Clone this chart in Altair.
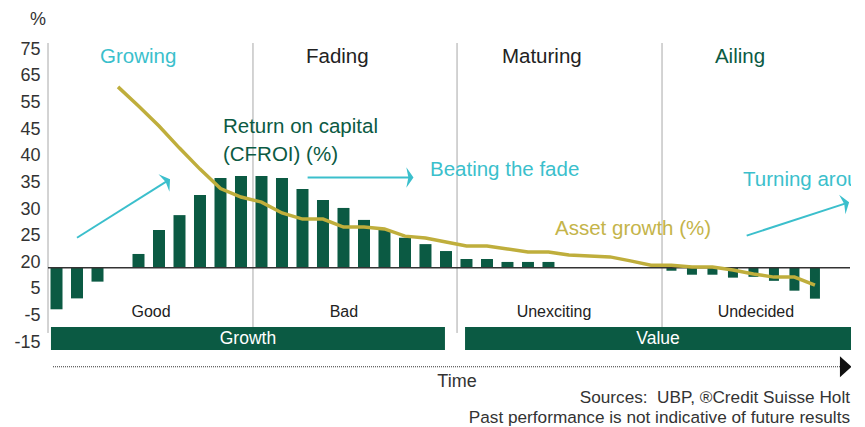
import math
import altair as alt
import pandas as pd

FONT = "Liberation Sans"
GREEN = "#0b5a43"
CYAN = "#3bbfcc"
OLIVE = "#bfae3c"
OLIVE_TXT = "#c4b44a"
DARK = "#222222"
GRAY = "#333333"
SEP = "#a8a8a8"

# ---- data (y values in axis-step units, 0 = "-15" tick) ----
y_tick_labels = ["-15", "-5", "5", "20", "25", "30", "35", "40", "45", "55", "65", "75"]
slots = list(range(38))
return_on_capital = [1.23, 1.64, 2.27, None, 3.31, 4.21, 4.77, 5.53, 6.17, 6.24, 6.24, 6.17,
                     5.75, 5.34, 5.04, 4.59, 4.21, 3.92, 3.68, 3.42, 3.12, 3.12, 3.01, 3.01,
                     3.01, None, None, None, None, None, 2.68, 2.53, 2.53, 2.42, 2.45, 2.30,
                     1.93, 1.63]
asset_growth = [None, None, None, 9.59, 8.87, 8.12, 7.29, 6.50, 5.77, 5.45, 5.26, 4.85,
                4.62, 4.62, 4.32, 4.32, 4.25, 3.98, 3.91, 3.76, 3.61, 3.61, 3.50, 3.38,
                3.38, 3.27, 3.23, 3.20, 3.05, 2.89, 2.89, 2.82, 2.82, 2.71, 2.56, 2.44,
                2.44, 2.14]
baseline = 2.79
phase_names = ["Growing", "Fading", "Maturing", "Ailing"]
phase_colors = [CYAN, DARK, DARK, GREEN]
phase_x = [2.12, 12.17, 21.73, 32.12]
outcome_names = ["Good", "Bad", "Unexciting", "Undecided"]
outcome_x = [4.61, 14.02, 24.27, 34.12]
separators = [9.585, 19.54, 29.54]
style_names = ["Growth", "Value"]
style_x0 = [-0.27, 19.93]
style_x1 = [18.95, 38.9]

X_MIN, X_MAX = -0.415, 38.71
Y_MIN, Y_MAX = -0.30, 11.24
W, H = 802, 307
PX_K = W / (X_MAX - X_MIN)
PX_V = H / (Y_MAX - Y_MIN)

xs = alt.Scale(domain=[X_MIN, X_MAX], nice=False, zero=False, padding=0)
ys = alt.Scale(domain=[Y_MIN, Y_MAX], nice=False, zero=False, padding=0)
label_expr = "[" + ",".join("'%s'" % t for t in y_tick_labels) + "][datum.value]"
Y_AXIS = alt.Axis(values=list(range(len(y_tick_labels))), labelExpr=label_expr, ticks=False,
                  domain=False, grid=False, title="", labelFont=FONT, labelFontSize=18,
                  labelColor=GRAY, labelPadding=8)


def X(f):
    return alt.X(f, type="quantitative", scale=xs, axis=None)


def Y(f):
    return alt.Y(f, type="quantitative", scale=ys, axis=Y_AXIS)


df = pd.DataFrame({"k": slots, "roc": return_on_capital, "ag": asset_growth})
df["base"] = baseline

# separators and left axis line
sep_df = pd.DataFrame({"k": [X_MIN] + separators, "top": Y_MAX, "bot": 0.34})
seps = alt.Chart(sep_df).mark_rule(color=SEP, strokeWidth=1).encode(
    x=X("k"), y=Y("top"), y2="bot")

bars_a = alt.Chart(df).transform_filter("datum.k <= 24").mark_bar(width=12, color=GREEN).encode(
    x=X("k"), y=Y("roc"), y2="base")
bars_b = alt.Chart(df).transform_filter("datum.k >= 30").mark_bar(width=10, color=GREEN).encode(
    x=X("k"), y=Y("roc"), y2="base")

base_df = pd.DataFrame({"k0": [X_MIN], "k1": [X_MAX], "v": [baseline]})
base_rule = alt.Chart(base_df).mark_rule(color=GRAY, strokeWidth=1.5).encode(
    x=X("k0"), x2="k1", y=Y("v"))

line = alt.Chart(df).mark_line(color=OLIVE, strokeWidth=3.5).encode(x=X("k"), y=Y("ag"))

band_df = pd.DataFrame({"name": style_names, "k0": style_x0, "k1": style_x1,
                        "v0": 0.564, "v1": -0.30})
band_df["kc"] = (band_df["k0"] + band_df["k1"].clip(upper=38.76)) / 2
band_df["vt"] = 0.11
bands = alt.Chart(band_df).mark_rect(color=GREEN).encode(
    x=X("k0"), x2="k1", y=Y("v0"), y2="v1")
band_text = alt.Chart(band_df).mark_text(font=FONT, fontSize=17.5, color="white",
                                         baseline="middle").encode(
    x=X("kc"), y=Y("vt"), text="name")

# left-aligned big labels
left_df = pd.DataFrame({
    "text": phase_names + ["Return on capital", "(CFROI) (%)", "Beating the fade",
                           "Turning around", "Asset growth (%)"],
    "k": phase_x + [8.12, 8.12, 18.22, 33.49, 24.32],
    "v": [10.71] * 4 + [8.08, 7.03, 6.47, 6.09, 4.25],
    "color": phase_colors + [GREEN, GREEN, CYAN, CYAN, OLIVE_TXT],
})
left_text = alt.Chart(left_df).mark_text(font=FONT, fontSize=20.5, align="left",
                                         baseline="middle").encode(
    x=X("k"), y=Y("v"), text="text", color=alt.Color("color:N", scale=None))

out_df = pd.DataFrame({"text": outcome_names, "k": outcome_x, "v": 1.13})
out_text = alt.Chart(out_df).mark_text(font=FONT, fontSize=16, color=DARK,
                                       baseline="middle").encode(
    x=X("k"), y=Y("v"), text="text")

misc_df = pd.DataFrame({"text": ["%", "Time"], "k": [-0.90, 19.54], "v": [12.1, -1.50]})
misc_text = alt.Chart(misc_df).mark_text(font=FONT, fontSize=18, color=GRAY,
                                         baseline="middle").encode(
    x=X("k"), y=Y("v"), text="text")

foot_df = pd.DataFrame({"text": ["Sources:\u00a0 UBP, \u00aeCredit Suisse Holt",
                                 "Past performance is not indicative of future results"],
                        "k": [38.71, 38.71], "v": [-2.11, -2.84]})
foot_text = alt.Chart(foot_df).mark_text(font=FONT, fontSize=17.2, color=GRAY, align="right",
                                         baseline="middle").encode(
    x=X("k"), y=Y("v"), text="text")

# cyan arrows
arr_df = pd.DataFrame({"k0": [1.0, 12.25, 33.67], "v0": [3.92, 6.18, 4.0],
                       "k1": [5.39, 17.24, 38.5], "v1": [6.05, 6.18, 5.21]})
arr_df["ang"] = [
    math.degrees(math.atan2(-(r.v1 - r.v0) * PX_V, (r.k1 - r.k0) * PX_K)) % 360
    for r in arr_df.itertuples()]
arr_lines = alt.Chart(arr_df).mark_rule(color=CYAN, strokeWidth=2).encode(
    x=X("k0"), x2="k1", y=Y("v0"), y2="v1")
HEAD = "M-0.35,-1 L0.35,0 L-0.35,1 L-0.15,0 Z"
arr_heads = alt.Chart(arr_df).mark_point(shape=HEAD, filled=True, color=CYAN, opacity=1,
                                         size=420, strokeWidth=0).encode(
    x=X("k1"), y=Y("v1"), angle=alt.Angle("ang:Q", scale=None))

# time arrow
time_df = pd.DataFrame({"k0": [-0.17], "k1": [38.22], "kh": [38.5], "v": [-0.93]})
time_line = alt.Chart(time_df).mark_rule(color=GRAY, strokeWidth=1, strokeDash=[1, 1]).encode(
    x=X("k0"), x2="k1", y=Y("v"))
time_head = alt.Chart(time_df).mark_point(shape="M-0.55,-1 L0.55,0 L-0.55,1 Z", filled=True,
                                          color="#111111", opacity=1, size=441,
                                          strokeWidth=0).encode(x=X("kh"), y=Y("v"))

chart = alt.layer(
    seps, bars_a, bars_b, base_rule, line, bands, band_text, left_text, out_text,
    misc_text, foot_text, arr_lines, arr_heads, time_line, time_head
).properties(
    width=W, height=H,
    autosize=alt.AutoSizeParams(type="none"),
    padding={"left": 40, "top": 35, "right": 1, "bottom": 80},
).configure_view(stroke="transparent")

chart.save("out.html", embed_options={"renderer": "svg", "actions": False})
